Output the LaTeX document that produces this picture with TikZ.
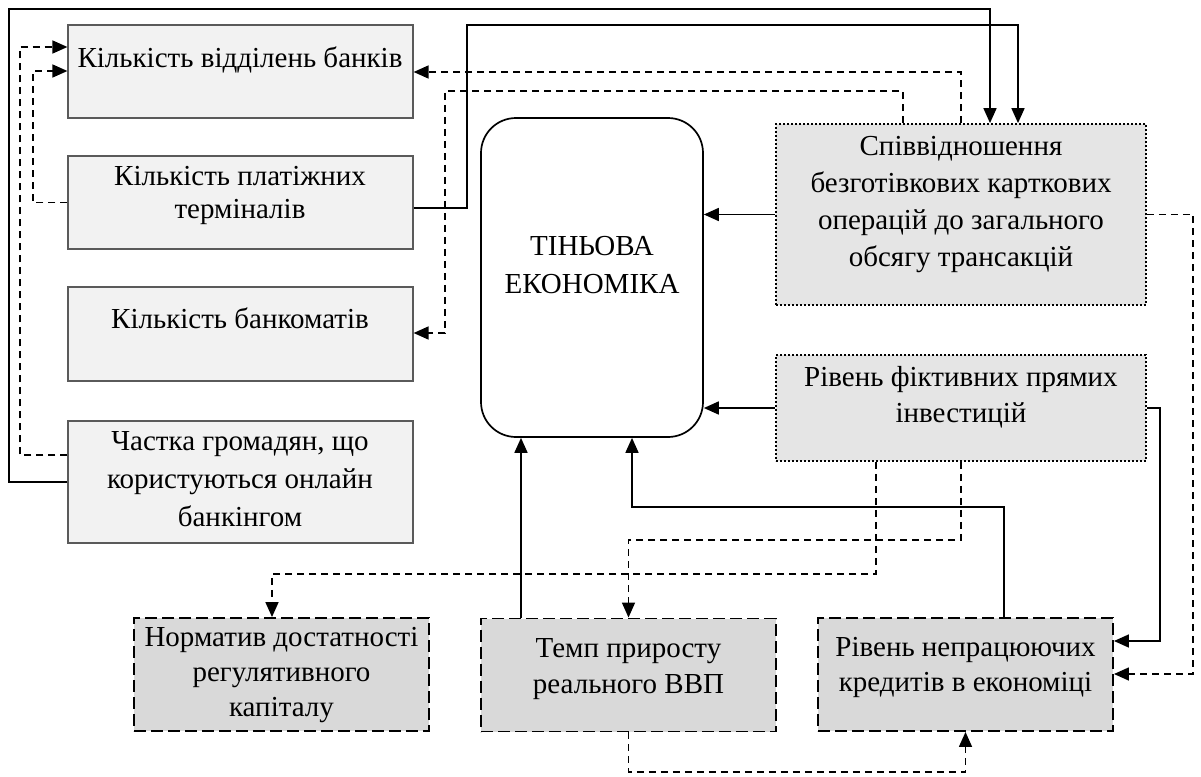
\documentclass[tikz,border=0pt]{standalone}
\usepackage{fontspec}
\setmainfont{Liberation Serif}
\usetikzlibrary{arrows.meta}
\definecolor{lbox}{HTML}{F2F2F2}
\definecolor{lborder}{HTML}{5A5A5A}
\definecolor{efill}{HTML}{E5E5E5}
\definecolor{gfill}{HTML}{D9D9D9}
\tikzset{
  lbox/.style={draw=lborder, line width=1.2pt, fill=lbox, minimum width=345pt, inner sep=0pt},
  dotbox/.style={draw=black, line width=1.8pt, dash pattern=on 1.8pt off 2.2pt, fill=efill, minimum width=370pt, inner sep=0pt},
  dashbox/.style={draw=black, line width=1.9pt, dash pattern=on 12pt off 5pt, fill=gfill, minimum width=295pt, minimum height=113pt, inner sep=0pt},
  centbox/.style={draw=black, line width=1.7pt, rounded corners=35pt, fill=white, minimum width=222pt, minimum height=319pt, inner sep=0pt},
  txt/.style={anchor=base, align=center, inner sep=0pt, font=\fontsize{29}{#1}\selectfont},
  txt/.default=35,
  sline/.style={line width=1.7pt, -{Triangle[length=15pt,width=13pt]}},
  dline/.style={line width=1.6pt, dash pattern=on 7pt off 5pt, -{Triangle[length=15pt,width=13pt]}},
}
\begin{document}
\begin{tikzpicture}[x=1pt,y=-1pt]
\fill[white] (0,0) rectangle (1201,776);
\useasboundingbox (0,0) rectangle (1201,776);
% left boxes
\node[lbox, minimum height=93pt] (bA) at (240.5,71.5) {};
\node[lbox, minimum height=93pt] (bB) at (240.5,202.5) {};
\node[lbox, minimum height=94pt] (bC) at (240.5,334) {};
\node[lbox, minimum height=122pt] (bD) at (240.5,482) {};
% central
\node[centbox] (bT) at (592,277.5) {};
% right boxes
\node[dotbox, minimum height=181pt] (bE) at (961,214.5) {};
\node[dotbox, minimum height=106pt] (bF) at (961,408) {};
% bottom boxes
\node[dashbox] (bG) at (281.5,674.5) {};
\node[dashbox] (bH) at (628.5,675) {};
\node[dashbox] (bI) at (965.5,674.5) {};
% texts (anchor = baseline of the last line)
\node[txt] (tA) at (240,67) {Кількість відділень банків};
\node[txt=33] (tB) at (240,218) {Кількість платіжних\\терміналів};
\node[txt] (tC) at (240,328) {Кількість банкоматів};
\node[txt=38] (tD) at (240,526) {Частка громадян, що\\користуються онлайн\\банкінгом};
\node[txt=38] (tT) at (592,293) {ТІНЬОВА\\ЕКОНОМІКА};
\node[txt=37] (tE) at (961,266) {Співвідношення\\безготівкових карткових\\операцій до загального\\обсягу трансакцій};
\node[txt=36] (tF) at (961,422) {Рівень фіктивних прямих\\інвестицій};
\node[txt=35] (tG) at (281.5,716) {Норматив достатності\\регулятивного\\капіталу};
\node[txt=36] (tH) at (628.5,693) {Темп приросту\\реального ВВП};
\node[txt=35] (tI) at (965.5,691) {Рівень непрацюючих\\кредитів в економіці};
% solid connectors
\draw[sline] (bD.west) -| (9,9) -| (bE.north -| 990,0);
\draw[sline] (bB.east |- 0,208) -| (467,25) -| (bE.north -| 1018,0);
\draw[sline] (bE.west) -- (bE.west -| bT.east);
\draw[sline] (bF.west) -- (bF.west -| bT.east);
\draw[sline] (bH.north -| 521,0) -- (bT.south -| 521,0);
\draw[sline] (bI.north -| 1004,0) |- (632,507) -- (bT.south -| 632,0);
\draw[sline] (bF.east) -| (1160,641) -- (bI.east |- 0,641);
% dashed connectors
\draw[dline] (bD.west |- 0,455) -| (20,47) -- (bA.west |- 0,47);
\draw[dline] (bB.west) -| (33,71) -- (bA.west |- 0,71);
\draw[dline] (bE.north) |- (bA.east |- 0,72);
\draw[dline] (bE.north -| 903,0) |- (445,91) |- (bC.east |- 0,333);
\draw[dline] (bE.east) -| (1193,674) -- (bI.east |- 0,674);
\draw[dline] (bF.south) |- (628.5,540) -- (bH.north);
\draw[dline] (bF.south -| 876,0) |- (272,574) -- (bG.north -| 272,0);
\draw[dline] (bH.south) |- (965.5,772) -- (bI.south);
\end{tikzpicture}
\end{document}
